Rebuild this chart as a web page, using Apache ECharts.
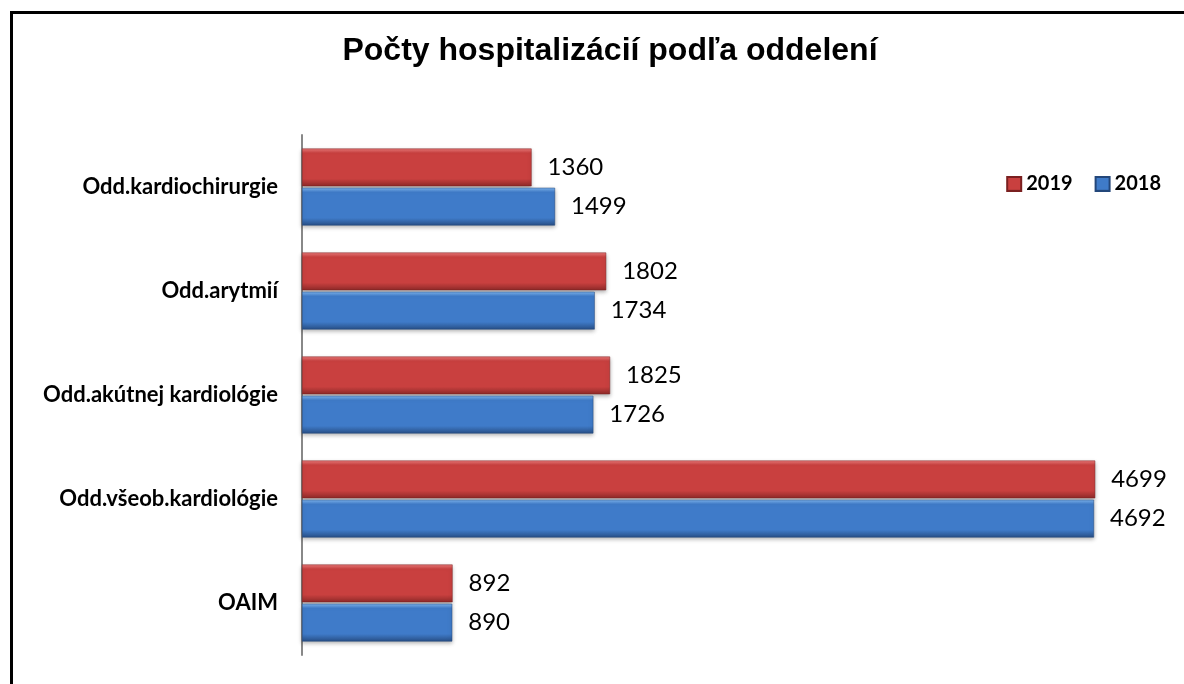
<!DOCTYPE html>
<html><head><meta charset="utf-8">
<script src="https://cdn.jsdelivr.net/npm/echarts@6/dist/echarts.min.js"></script>
<style>html,body{margin:0;padding:0;background:#fff}#c{width:1184px;height:684px}</style>
</head><body><div id="c"></div>
<script>
const categories = ['Odd.kardiochirurgie','Odd.arytmií','Odd.akútnej kardiológie','Odd.všeob.kardiológie','OAIM'];
const seriesNames = ['2019','2018'];
const values2019 = [1360,1802,1825,4699,892];
const values2018 = [1499,1734,1726,4692,890];

const chart = echarts.init(document.getElementById('c'), null, {renderer:'canvas'});
function grad(top, mid, bot){
  return new echarts.graphic.LinearGradient(0,0,0,1,[
    {offset:0,color:top},{offset:0.12,color:mid},{offset:0.8,color:mid},{offset:1,color:bot}
  ]);
}
const redFill = grad('#ec7b7b','#c9403f','#8e2a29');
const blueFill = grad('#7fb6f0','#3f7bc9','#284f86');
const labelStyle = {show:true, position:'right', distance:16, fontFamily:'Lato, "Open Sans", sans-serif', fontSize:24, color:'#000'};
chart.setOption({
  animation:false,
  backgroundColor:'#fff',
  title:{text:'Počty hospitalizácií podľa oddelení', left:605, textAlign:'center', top:30,
    textStyle:{fontFamily:'"Liberation Sans", Arial, sans-serif', fontWeight:'bold', fontSize:32, color:'#000'}},
  graphic:[{type:'rect', left:9, top:10, shape:{width:1250, height:750}, style:{fill:'none', stroke:'#000', lineWidth:3}, z:-1}],
  legend:{data:seriesNames, right:18, top:169, itemWidth:14, itemHeight:14, itemGap:22, icon:'rect',
    textStyle:{fontFamily:'Lato, "Open Sans", sans-serif', fontWeight:'bold', fontSize:20, color:'#000'}},
  grid:{left:302, top:135, width:844, bottom:29, containLabel:false},
  xAxis:{type:'value', min:0, max:5000, show:false},
  yAxis:{type:'category', data:categories, inverse:true,
    axisLine:{show:true, lineStyle:{color:'#888', width:2}}, axisTick:{show:false},
    axisLabel:{margin:24, fontFamily:'Lato, "Open Sans", sans-serif', fontWeight:'bold', fontSize:22, color:'#000'}},
  series:[
    {name:'2019', type:'bar', data:values2019, barCategoryGap:'26%', barGap:'4%',
      itemStyle:{color:redFill, borderColor:'#7a2020', borderWidth:0.5, shadowColor:'rgba(0,0,0,0.3)', shadowBlur:4, shadowOffsetY:2},
      label:labelStyle},
    {name:'2018', type:'bar', data:values2018, barCategoryGap:'26%', barGap:'4%',
      itemStyle:{color:blueFill, borderColor:'#23477a', borderWidth:0.5, shadowColor:'rgba(0,0,0,0.3)', shadowBlur:4, shadowOffsetY:2},
      label:labelStyle}
  ]
});
</script></body></html>
